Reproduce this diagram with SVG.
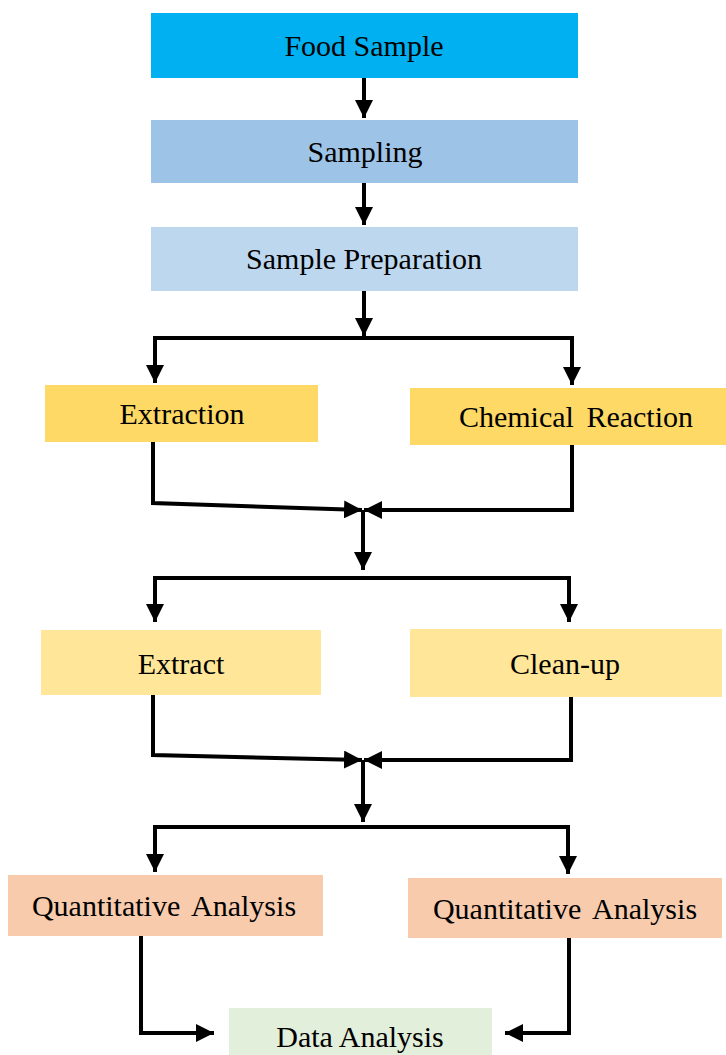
<svg xmlns="http://www.w3.org/2000/svg" width="726" height="1055" viewBox="0 0 726 1055">
<style>
  text { font-family: "Liberation Serif", "Times New Roman", serif; font-size: 30px; fill: #000; text-anchor: middle; }
  .conn path { fill: none; stroke: #000; stroke-width: 4; stroke-linejoin: miter; marker-end: url(#ah); }
</style>
<defs>
  <marker id="ah" viewBox="0 0 18 18" refX="18" refY="9" markerWidth="18" markerHeight="18" markerUnits="userSpaceOnUse" orient="auto">
    <path d="M0,0 L18,9 L0,18 z" fill="#000"/>
  </marker>
</defs>
<rect width="726" height="1055" fill="#fff"/>
<g id="food-sample"><rect x="151" y="13" width="427" height="65" fill="#00B0F0"/><text x="364" y="56">Food Sample</text></g>
<g id="sampling"><rect x="151" y="120" width="427" height="63" fill="#9DC3E6"/><text x="365" y="162">Sampling</text></g>
<g id="sample-preparation"><rect x="151" y="227" width="427" height="64" fill="#BDD7EE"/><text x="364" y="269">Sample Preparation</text></g>
<g id="extraction"><rect x="45" y="385" width="273" height="57" fill="#FFD966"/><text x="182" y="424">Extraction</text></g>
<g id="chemical-reaction"><rect x="410" y="388" width="316" height="57" fill="#FFD966"/><text x="576" y="427" word-spacing="5">Chemical Reaction</text></g>
<g id="extract"><rect x="41" y="630" width="280" height="65" fill="#FFE699"/><text x="181" y="674">Extract</text></g>
<g id="clean-up"><rect x="410" y="629" width="312" height="68" fill="#FFE699"/><text x="565" y="674">Clean-up</text></g>
<g id="quant-left"><rect x="8" y="875" width="315" height="61" fill="#F8CBAD"/><text x="164" y="916" word-spacing="5">Quantitative Analysis</text></g>
<g id="quant-right"><rect x="408" y="878" width="314" height="60" fill="#F8CBAD"/><text x="565" y="919" word-spacing="5">Quantitative Analysis</text></g>
<g id="data-analysis"><rect x="229" y="1008" width="263" height="47" fill="#E2EFDA"/><text x="360" y="1047">Data Analysis</text></g>
<g id="connectors" class="conn">
  <path d="M364,78 V118"/>
  <path d="M364,183 V225"/>
  <path d="M364,291 V336"/>
  <path d="M364,338 H155 V383"/>
  <path d="M364,338 H572 V385"/>
  <path d="M153,442 V503 L362,510"/>
  <path d="M572,445 V510 H364"/>
  <path d="M363,510 V570"/>
  <path d="M363,578 H155 V622"/>
  <path d="M363,578 H569 V622"/>
  <path d="M153,695 V755 L362,760"/>
  <path d="M571,697 V760 H364"/>
  <path d="M363,760 V822"/>
  <path d="M363,827 H155 V872"/>
  <path d="M363,827 H568 V874"/>
  <path d="M141,936 V1033 H214"/>
  <path d="M569,938 V1033 H505"/>
</g>
</svg>
